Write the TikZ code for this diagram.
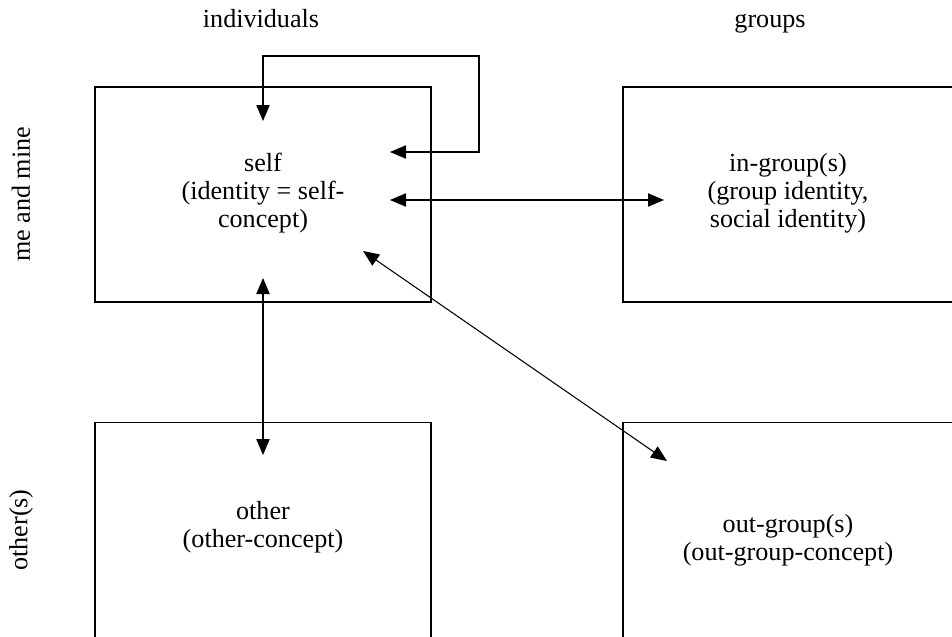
\documentclass[tikz,border=0pt]{standalone}
\usepackage{fontspec}
\setmainfont{Liberation Serif}
\usetikzlibrary{arrows.meta}

\tikzset{every picture/.style={line width=0.8pt}}
\tikzset{
  box/.style={draw, minimum width=252pt, minimum height=161.25pt, inner sep=0pt},
  txt/.style={align=center, inner sep=0.75pt, font=\fontsize{19.6}{21}\selectfont},
  dbl/.style={{Triangle[length=12pt,width=10pt]}-{Triangle[length=12pt,width=10pt]}}
}

\begin{document}
\begin{tikzpicture}[x=0.75pt,y=0.75pt,yscale=-1,xscale=1]
\useasboundingbox (0,0) rectangle (952,636);

%Boxes
\node[box] (self) at (263,194.5) {};
\node[box] (ingrp) at (791,194.5) {};
\node[box] (other) at (263,530) {};
\node[box] (outgrp) at (791,530) {};

% Text Node
\node[txt] (selftxt) at (263,193) {self\\(identity = self-\\concept)};
% Text Node
\node[txt] (ingrptxt) at (788,193) {in-group(s)\\(group identity,\\social identity)};
% Text Node
\node[txt] (othertxt) at (263,527) {other\\(other-concept)};
% Text Node
\node[txt] (outgrptxt) at (788,540) {out-group(s)\\(out-group-concept)};

% Column and row labels
\node[txt, anchor=base] (indiv) at (261,27) {individuals};
\node[txt, anchor=base] (groups) at (770,27) {groups};
\node[txt, rotate=90] (mine) at (21,194.5) {me and mine};
\node[txt, rotate=90] (others) at (21,530) {other(s)};

%Arrow ends
\coordinate (selfR) at (390,152);
\coordinate (loopC) at (479,56);
\coordinate (selfT) at (263,121);
\coordinate (selfM) at (390,200);
\coordinate (ingrpL) at (664,200);
\coordinate (selfB) at (263,278);
\coordinate (otherT) at (263,455);
\coordinate (selfD) at (363,251);
\coordinate (outgrpT) at (667,461);

%Connectors
\draw[dbl] (selfR) -| (loopC) -| (selfT);
\draw[dbl] (selfM) -- (ingrpL);
\draw[dbl] (selfB) -- (otherT);
\draw[dbl] (selfD) -- (outgrpT);

\end{tikzpicture}
\end{document}
